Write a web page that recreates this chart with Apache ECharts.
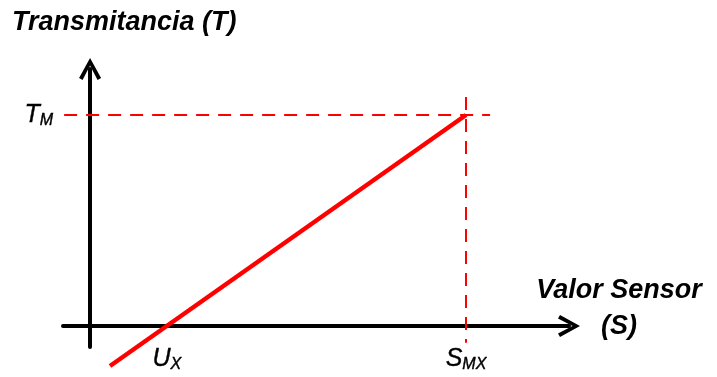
<!DOCTYPE html>
<html>
<head>
<meta charset="utf-8">
<script src="https://cdn.jsdelivr.net/npm/echarts@6/dist/echarts.min.js"></script>
<style>
  html, body { margin: 0; padding: 0; background: #fff; }
  #chart { width: 717px; height: 377px; }
</style>
</head>
<body>
<div id="chart"></div>
<script>
  // S axis: 0 at origin, S_MX = 10 ; T axis: 0 at origin, T_M = 10
  const S_MX = 10
  const T_M = 10
  const U_X = 2.04
  const responseLine = [[0.53, -1.9], [S_MX, T_M]]
  const tmGuide = [[-0.69, T_M], [10.64, T_M]]
  const smxGuide = [[S_MX, 10.85], [S_MX, -0.8]]
  const markLabels = [
    { name: 'TM', value: [0, T_M] },
    { name: 'UX', value: [U_X, 0] },
    { name: 'SMX', value: [S_MX, 0] }
  ]

  const red = '#ff0000'
  const arrow = 'path://M11,0 L22,20 L18.5,22 L11,7.5 L3.5,22 L0,20 Z'
  const font = "'Liberation Sans', Arial, sans-serif"

  const base = { fontStyle: 'italic', fontFamily: font, color: '#000', textBorderColor: '#000', textBorderWidth: 0.4, opacity: 1 }
  const sub = {
    t: Object.assign({ fontSize: 25, lineHeight: 28 }, base),
    s: Object.assign({ fontSize: 16, padding: [12, 0, 0, 0], lineHeight: 28 }, base)
  }

  const chart = echarts.init(document.getElementById('chart'))
  chart.setOption({
    animation: false,
    grid: { left: 63, right: 148, top: 69, bottom: 30 },
    xAxis: {
      type: 'value', min: -0.72, max: 12.74,
      axisLine: { onZero: true, symbol: ['none', arrow], symbolSize: [22, 22], lineStyle: { color: '#000', width: 4 } },
      axisTick: { show: false }, axisLabel: { show: false }, splitLine: { show: false }
    },
    yAxis: {
      type: 'value', min: -1.0, max: 12.18,
      axisLine: { onZero: true, symbol: ['none', arrow], symbolSize: [22, 22], lineStyle: { color: '#000', width: 4 } },
      axisTick: { show: false }, axisLabel: { show: false }, splitLine: { show: false }
    },
    graphic: [
      { type: 'text', x: 12, y: 9, style: { text: 'Transmitancia (T)', font: 'italic bold 27px ' + font, fill: '#000' } },
      { type: 'text', x: 619, y: 273, style: { text: 'Valor Sensor\n(S)', font: 'italic bold 27px ' + font, fill: '#000', align: 'center', lineHeight: 36 } }
    ],
    series: [
      {
        type: 'line', data: tmGuide, symbol: 'none', silent: true,
        lineStyle: { color: red, width: 2, type: [13, 9] }
      },
      {
        type: 'line', data: smxGuide, symbol: 'none', silent: true, clip: false,
        lineStyle: { color: red, width: 2, type: [13, 9] }
      },
      {
        type: 'line', data: responseLine, symbol: 'none', clip: false, z: 5,
        lineStyle: { color: red, width: 4.5 }
      },
      {
        type: 'scatter', silent: true, symbolSize: 0, clip: false,
        itemStyle: { opacity: 1 },
        data: markLabels.map(function (d) {
          if (d.name === 'TM') return { name: d.name, value: d.value, label: { position: 'left', distance: 37 } }
          return d
        }),
        label: {
          show: true,
          color: '#000',
          rich: sub,
          formatter: function (p) {
            if (p.name === 'TM') return '{t|T}{s|M}'
            if (p.name === 'UX') return '{t|U}{s|X}'
            return '{t|S}{s|MX}'
          },
          position: 'bottom', distance: 19
        }
      }
    ]
  })
</script>
</body>
</html>
